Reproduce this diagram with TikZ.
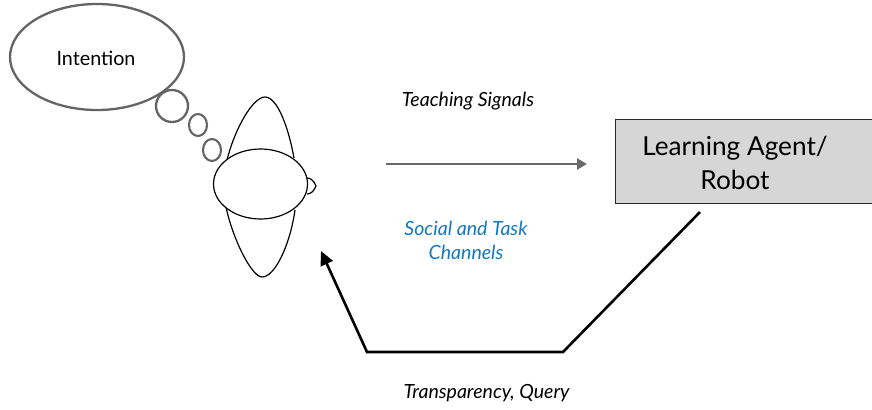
\documentclass[tikz,border=0pt]{standalone}
\usepackage{fontspec}
\setmainfont{Lato}
\usetikzlibrary{arrows.meta,shapes.geometric}
\definecolor{bubblegray}{RGB}{100,100,100}
\definecolor{boxgray}{RGB}{214,214,214}
\definecolor{chanblue}{RGB}{20,120,190}
\definecolor{arrowgray}{RGB}{105,105,105}
\tikzset{
  x=1bp,y=-1bp,
  bubble/.style={ellipse,draw=bubblegray,line width=2.3bp,inner sep=0pt,fill=white},
  figline/.style={draw=black,line width=1.2bp},
  lab/.style={font=\fontsize{19.6}{24}\selectfont\itshape,inner sep=0pt,align=center},
  teach/.style={draw=arrowgray,line width=2.3bp,-{Triangle[length=10bp,width=11bp]}},
  feedback/.style={draw=black,line width=2.6bp,line cap=butt,-{Triangle[length=14bp,width=13bp]}},
  agent/.style={draw=black!85,line width=1bp,fill=boxgray}
}
\begin{document}
\begin{tikzpicture}
\useasboundingbox (0,0) rectangle (872,409);
% thought bubbles
\node[bubble,minimum width=174bp,minimum height=106bp] (thought) at (97,57) {};
\node[font=\fontsize{19.8}{24}\selectfont,inner sep=0pt] (intent) at (96,58) {Intention};
\node[bubble,minimum width=32bp,minimum height=32bp] (b1) at (172,106) {};
\node[bubble,minimum width=18bp,minimum height=22bp,line width=2.1bp] (b2) at (198,125) {};
\node[bubble,minimum width=18bp,minimum height=22bp,line width=2.1bp] (b3) at (212,150) {};
% person seen from above
\draw[figline] (227,160) .. controls (235,128) and (253,97) .. (265,97)
  .. controls (278,97) and (289,130) .. (294,158);
\draw[figline] (226,207) .. controls (233,240) and (252,277) .. (262,277)
  .. controls (275,277) and (290,245) .. (295,210);
\draw[figline] (307,178) .. controls (311,178) and (314,181) .. (316,186)
  .. controls (314,191) and (311,194) .. (307,194);
\node[ellipse,figline,fill=white,minimum width=94bp,minimum height=70bp,inner sep=0pt] (head) at (260.5,184) {};
% agent box
\path[agent] (615,119.5) rectangle (880,203.5);
\coordinate (agentfoot) at (700,212);
\node[font=\fontsize{26.3}{35}\selectfont,inner sep=0pt,align=center] (agenttext) at (735,163) {Learning Agent/\\Robot};
% connectors
\coordinate (teachstart) at (386,164);
\coordinate (teachend) at (587,164);
\draw[teach] (teachstart) -- (teachend);
\coordinate (fb1) at (563,352);
\coordinate (fb2) at (367,352);
\coordinate (fbend) at (321,251);
\draw[feedback] (agentfoot) -- (fb1) -- (fb2) -- (fbend);
% labels
\node[lab] (teachlab) at (468,101) {Teaching Signals};
\node[lab,text=chanblue] (chanlab) at (466,240) {Social and Task\\Channels};
\node[lab] (querylab) at (486.5,393) {Transparency, Query};
\end{tikzpicture}
\end{document}
